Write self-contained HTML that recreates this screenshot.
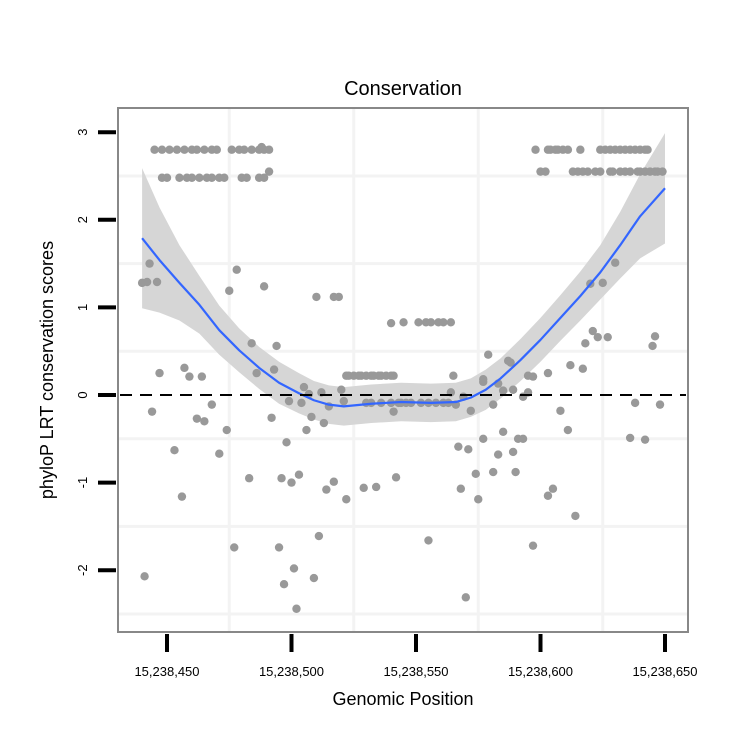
<!DOCTYPE html>
<html><head><meta charset="utf-8"><style>
html,body{margin:0;padding:0;background:#fff;}
svg text{font-family:"Liberation Sans",sans-serif;}
</style></head><body>
<svg id="chart" width="750" height="750" viewBox="0 0 750 750" xmlns="http://www.w3.org/2000/svg">
<rect width="750" height="750" fill="#fff"/>
<text x="403" y="95" font-size="20" text-anchor="middle">Conservation</text>
<g id="grid"></g>
<g id="band"></g>
<g id="pts"></g>
<g id="fit"></g>
<g id="ref"></g>
<rect x="118" y="108" width="570" height="524" fill="none" stroke="#888" stroke-width="2"/>
<g id="axes"></g>
<text x="403" y="705" font-size="18" text-anchor="middle">Genomic Position</text>
<text transform="translate(53,370) rotate(-90)" font-size="18" text-anchor="middle">phyloP LRT conservation scores</text>
</svg>
<script>
const xTicks=[15238450,15238500,15238550,15238600,15238650];
const xTickLabels=["15,238,450","15,238,500","15,238,550","15,238,600","15,238,650"];
const yTicks=[-2,-1,0,1,2,3];
const yTickLabels=["-2","-1","0","1","2","3"];
const xGrid=[15238475,15238525,15238575,15238625];
const yGrid=[-2.5,-1.5,-0.5,0.5,1.5,2.5];
const B=15238450;
const pointOffsets=[-5,-2,1,4,7,10,12,15,18,20,26,29,31,34,37,39,41,38,
-2,0,5,8,10,13,16,18,21,23,30,32,37,39,41,
148,153,154,156,157,159,161,166,174,176,178,180,182,184,186,188,190,192,193,
150,152,163,165,167,169,172,174,178,179,182,184,186,189,190,192,194,196,197,199,
-7,-10,-8,-4,28,25,39,60,67,69,90,95,101,104,106,109,111,114,34,44,-3,7,9,14,36,43,
72,73,75,77,78,80,82,83,85,86,88,90,91,
-6,12,15,18,24,3,21,6,-9,42,49,55,57,54,58,56,63,62,65,70,71,48,33,46,50,53,64,67,72,79,84,92,91,94,27,45,61,51,59,47,52,
80,82,86,90,93,96,98,102,105,108,111,113,
129,137,138,115,127,145,147,153,162,167,168,171,173,177,180,170,175,196,195,
127,133,114,119,116,122,131,135,139,145,143,158,161,188,198,186,192,135,127,117,121,133,139,141,143,124,131,140,118,125,153,155,164,105,147,120];
const pointScores=[2.80,2.80,2.80,2.80,2.80,2.80,2.80,2.80,2.80,2.80,2.80,2.80,2.80,2.80,2.80,2.80,2.80,2.83,
2.48,2.48,2.48,2.48,2.48,2.48,2.48,2.48,2.48,2.48,2.48,2.48,2.48,2.48,2.55,
2.80,2.80,2.80,2.80,2.80,2.80,2.80,2.80,2.80,2.80,2.80,2.80,2.80,2.80,2.80,2.80,2.80,2.80,2.80,
2.55,2.55,2.55,2.55,2.55,2.55,2.55,2.55,2.55,2.55,2.55,2.55,2.55,2.55,2.55,2.55,2.55,2.55,2.55,2.55,
1.50,1.28,1.29,1.29,1.43,1.19,1.24,1.12,1.12,1.12,0.82,0.83,0.83,0.83,0.83,0.83,0.83,0.83,0.59,0.56,0.25,0.31,0.21,0.21,0.25,0.29,
0.22,0.22,0.22,0.22,0.22,0.22,0.22,0.22,0.22,0.22,0.22,0.22,0.22,
-0.19,-0.27,-0.30,-0.11,-0.40,-0.63,-0.67,-1.16,-2.07,-0.26,-0.07,0.09,0.01,-0.09,-0.25,-0.40,-0.32,0.03,-0.13,0.06,-0.07,-0.54,-0.95,-0.95,-1.00,-0.91,-1.08,-0.99,-1.19,-1.06,-1.05,-0.94,-0.19,-0.09,-1.74,-1.74,-1.61,-1.98,-2.09,-2.16,-2.44,
-0.09,-0.09,-0.09,-0.09,-0.09,-0.09,-0.09,-0.09,-0.09,-0.09,-0.09,-0.09,
0.46,0.39,0.37,0.22,0.18,0.22,0.21,0.25,0.34,0.30,0.59,0.73,0.66,0.66,1.51,1.27,1.28,0.67,0.56,
0.15,0.13,0.03,-0.02,-0.11,-0.18,-0.11,0.05,0.06,0.03,-0.02,-0.18,-0.40,-0.09,-0.11,-0.49,-0.51,-0.42,-0.50,-0.59,-0.62,-0.68,-0.65,-0.50,-0.50,-0.90,-0.88,-0.88,-1.07,-1.19,-1.15,-1.07,-1.38,-1.66,-1.72,-2.31];
const fitOffsets=[-10,-3,5,13,21,29,37,45,53,59,65,71,82,94,106,116,122,128,134,142,150,158,166,174,182,190,200];
const fitValues=[1.79,1.54,1.28,1.03,0.74,0.51,0.31,0.14,0.02,-0.06,-0.11,-0.13,-0.10,-0.08,-0.09,-0.08,-0.03,0.06,0.19,0.40,0.63,0.88,1.13,1.40,1.71,2.04,2.36];
const fitHalfWidth=[0.80,0.60,0.43,0.33,0.28,0.25,0.24,0.24,0.23,0.22,0.22,0.22,0.22,0.22,0.22,0.22,0.22,0.23,0.23,0.24,0.25,0.26,0.28,0.31,0.38,0.48,0.63];

const NS="http://www.w3.org/2000/svg";
function X(p){return 167+(p-B)*2.49;}
function Y(s){return 395-s*87.6;}
function mk(t,a,parent){const e=document.createElementNS(NS,t);for(const k in a)e.setAttribute(k,a[k]);parent.appendChild(e);return e;}
const grid=document.getElementById('grid');
xGrid.forEach(g=>{const l=mk('line',{x1:X(g),x2:X(g),y1:108,y2:632,stroke:'#f3f3f3','stroke-width':3},grid);

});
yGrid.forEach(g=>{const l=mk('line',{x1:118,x2:688,y1:Y(g),y2:Y(g),stroke:'#f3f3f3','stroke-width':3},grid);

});
// band
let up=[],lo=[];
for(let i=0;i<fitOffsets.length;i++){up.push(X(B+fitOffsets[i])+','+Y(fitValues[i]+fitHalfWidth[i]));lo.unshift(X(B+fitOffsets[i])+','+Y(fitValues[i]-fitHalfWidth[i]));}
const band=mk('polygon',{points:up.concat(lo).join(' '),fill:'#d6d6d6'},document.getElementById('band'));


const pts=document.getElementById('pts');
for(let i=0;i<pointOffsets.length;i++){
const c=mk('circle',{cx:X(B+pointOffsets[i]),cy:Y(pointScores[i]),r:4.2,fill:'#999999'},pts);

}
const fl=mk('polyline',{points:fitOffsets.map((o,i)=>X(B+o)+','+Y(fitValues[i])).join(' '),fill:'none',stroke:'#3366ff','stroke-width':2.2,'stroke-linejoin':'round'},document.getElementById('fit'));


const rl=mk('line',{x1:120,x2:686,y1:Y(0),y2:Y(0),stroke:'#000','stroke-width':2,'stroke-dasharray':'12,8'},document.getElementById('ref'));


const ax=document.getElementById('axes');
xTicks.forEach((t,i)=>{const l=mk('line',{x1:X(t),x2:X(t),y1:634,y2:652,stroke:'#000','stroke-width':4},ax);


const tx=mk('text',{x:X(t),y:676,'font-size':13,'text-anchor':'middle'},ax);tx.textContent=xTickLabels[i];

});
yTicks.forEach((t,i)=>{const l=mk('line',{x1:98,x2:116,y1:Y(t),y2:Y(t),stroke:'#000','stroke-width':4},ax);


const tx=mk('text',{transform:'translate(87,'+Y(t)+') rotate(-90)','font-size':13,'text-anchor':'middle'},ax);tx.textContent=yTickLabels[i];

});
</script>
</body></html>
